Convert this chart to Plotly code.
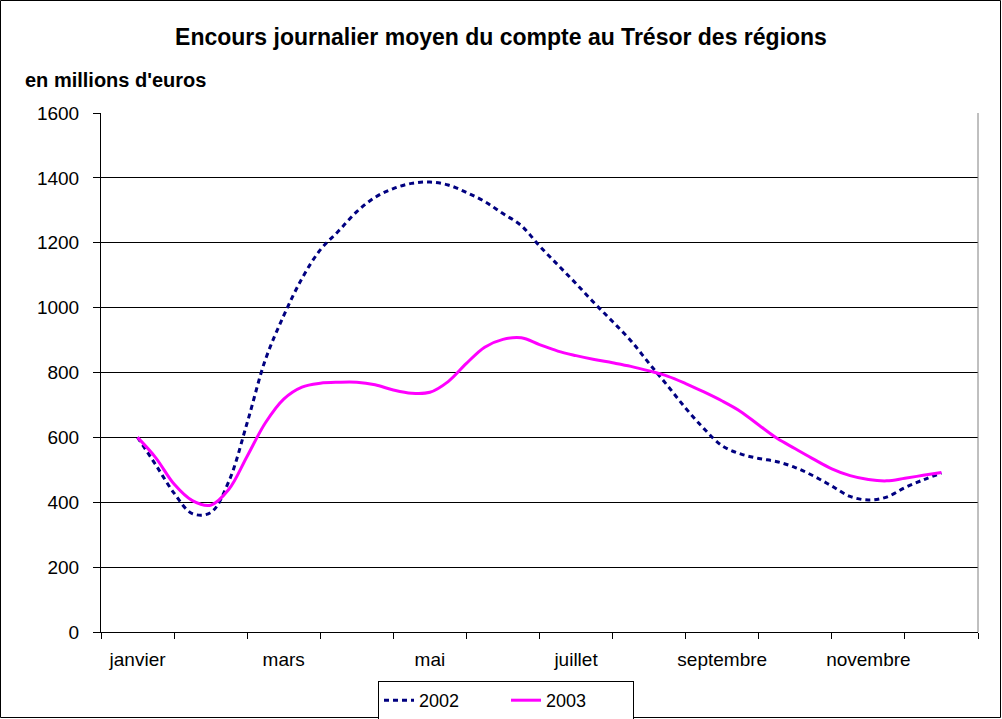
import plotly.graph_objects as go

# x positions in months (0 = start of janvier, 12 = end of décembre), quarter-month steps
mois_pos = [0.5 + 0.25 * i for i in range(45)]

encours_2002 = [600, 515, 428, 365, 368, 465, 645, 840, 975, 1090, 1178, 1236, 1296, 1340, 1367,
                1383, 1387, 1378, 1355, 1327, 1290, 1253, 1190, 1132, 1074, 1014, 957, 898, 828,
                760, 690, 627, 574, 549, 535, 525, 507, 481, 450, 418, 407, 416, 445, 469, 490]

encours_2003 = [600, 537, 456, 405, 391, 440, 542, 645, 718, 755, 767, 770, 770, 762, 746,
                736, 739, 772, 828, 878, 902, 907, 886, 866, 852, 840, 830, 819, 805, 789,
                766, 740, 712, 680, 638, 597, 565, 533, 503, 482, 470, 466, 474, 483, 492]

label_pos = [0.5, 2.5, 4.5, 6.5, 8.5, 10.5]
mois_labels = ["janvier", "mars", "mai", "juillet", "septembre", "novembre"]
y_ticks = [0, 200, 400, 600, 800, 1000, 1200, 1400, 1600]

FONT = "Liberation Sans, Arial, sans-serif"

fig = go.Figure()
fig.add_trace(go.Scatter(x=mois_pos, y=encours_2002, name="2002", mode="lines",
                         line=dict(color="#000080", width=3, dash="5px,4px", shape="spline")))
fig.add_trace(go.Scatter(x=mois_pos, y=encours_2003, name="2003", mode="lines",
                         line=dict(color="#FF00FF", width=3, shape="spline")))

fig.update_layout(
    width=1002, height=719, autosize=False,
    margin=dict(l=101, r=24, t=113, b=87),
    paper_bgcolor="white", plot_bgcolor="white",
    font=dict(family=FONT, color="black", size=18),
    showlegend=True,
    legend=dict(orientation="h", xref="container", yref="container",
                x=506 / 1002, y=1 - 681 / 719, xanchor="center", yanchor="top",
                bordercolor="black", borderwidth=1, font=dict(size=18),
                tracegroupgap=0, entrywidth=82),
    xaxis=dict(range=[0, 12], showgrid=False, zeroline=False,
               tickmode="array", tickvals=label_pos, ticktext=mois_labels, ticks="",
               ticklabelstandoff=10,
               minor=dict(tickmode="linear", tick0=0, dtick=1, ticks="outside", ticklen=6,
                          tickcolor="black", tickwidth=1, showgrid=False),
               showline=True, linecolor="black", linewidth=1,
               tickfont=dict(size=19)),
    yaxis=dict(range=[0, 1600], tickvals=y_ticks, showgrid=True, gridcolor="black",
               gridwidth=1, zeroline=False, ticks="outside", ticklen=7, tickcolor="black",
               showline=True, linecolor="black", linewidth=1, ticklabelstandoff=10,
               tickfont=dict(size=19)),
    title=dict(text="<b>Encours journalier moyen du compte au Trésor des régions</b>",
               x=0.5, xanchor="center", y=1 - 37 / 719, yanchor="middle",
               font=dict(size=23, family=FONT)),
)

fig.add_annotation(text="<b>en millions d'euros</b>", xref="paper", yref="paper",
                   x=(23 - 101) / 877, y=(632 - 80) / 519, xanchor="left", yanchor="middle",
                   showarrow=False, font=dict(size=20, family=FONT))

# right border of plot area
fig.add_shape(type="line", xref="paper", yref="paper", x0=1, x1=1, y0=0, y1=1,
              line=dict(color="#808080", width=1))
# outer frame
fig.add_shape(type="rect", xref="paper", yref="paper",
              x0=(0.5 - 101) / 877, x1=(1000.5 - 101) / 877,
              y0=(632 - 717.5) / 519, y1=(632 - 0.5) / 519,
              line=dict(color="black", width=1))

fig.write_html("out.html", default_width="1002px", default_height="719px",
               config={"displayModeBar": False, "responsive": False},
               post_script="document.body.style.margin='0';document.body.style.overflow='hidden';")
